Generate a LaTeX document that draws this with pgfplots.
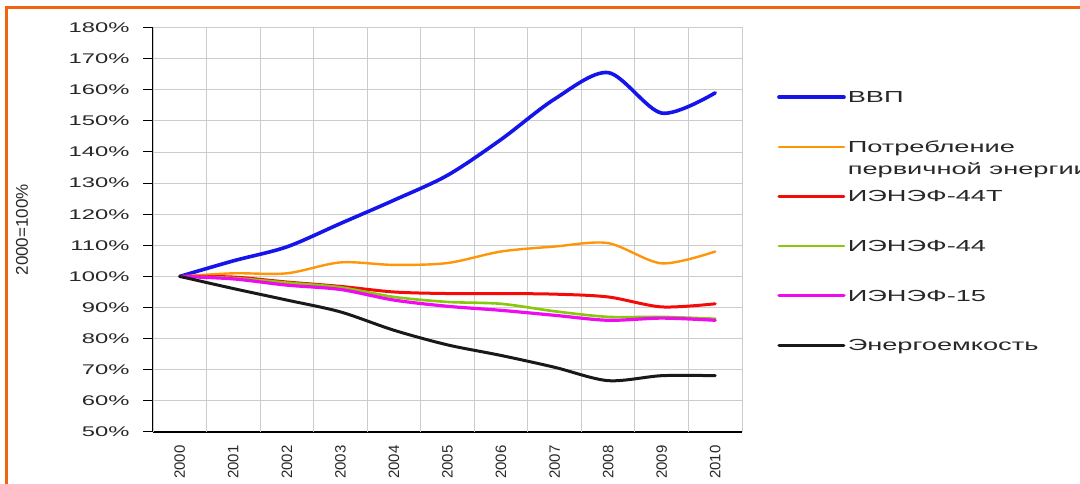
\documentclass[border=0pt]{standalone}
\usepackage{pgfplots}
\pgfplotsset{compat=1.18}
\usepackage{fontspec}
\setmainfont{Liberation Sans}
\newfontfamily\widefont{Liberation Sans}[FakeStretch=1.7]

\definecolor{frameorange}{RGB}{240,100,16}
\definecolor{gdpblue}{RGB}{20,20,235}
\definecolor{consorange}{RGB}{255,150,10}
\definecolor{ienred}{RGB}{245,10,10}
\definecolor{iengreen}{RGB}{135,200,10}
\definecolor{ienmag}{RGB}{240,10,240}
\definecolor{intblack}{RGB}{25,25,25}
\definecolor{txt}{RGB}{40,40,40}

\begin{document}
\begin{tikzpicture}[x=1pt,y=1pt]
\useasboundingbox (0,0) rectangle (1080,484);
\fill[white] (0,0) rectangle (1080,484);
% frame
\draw[frameorange, line width=3pt] (6,0) -- (6,476) -- (1080,476);

\begin{axis}[
  at={(153pt,52pt)}, anchor=south west,
  scale only axis, width=589pt, height=404.5pt,
  xmin=-0.5, xmax=10.5, ymin=50, ymax=180,
  axis x line*=bottom, axis y line*=left,
  axis line style={black, line width=1.8pt},
  tick align=outside,
  ytick={50,60,...,180},
  yticklabel={\pgfmathprintnumber{\tick}\%},
  /pgf/number format/assume math mode=true,
  yticklabel style={font=\widefont\fontsize{14}{16}\selectfont, text=txt, xshift=-10pt},
  ymajorgrids,
  major grid style={gray!40, line width=0.9pt},
  major tick length=10pt,
  tick style={black, line width=1pt},
  xtick={0,...,10},
  xticklabels={2000,2001,2002,2003,2004,2005,2006,2007,2008,2009,2010},
  xtick style={draw=none},
  xticklabel style={rotate=90, anchor=east, font=\fontsize{15}{18}\selectfont, text=txt},
  extra x ticks={-0.5,0.5,...,10.5},
  extra x tick labels={},
  extra x tick style={grid=major, major tick length=6pt, tick style={black, line width=1pt}},
  ylabel={2000=100\%},
  ylabel style={at={(axis description cs:-0.2224,0.50)}, anchor=center, font=\fontsize{17}{19}\selectfont, text=txt},
  legend cell align=left,
  legend image code/.code={\draw[#1] (0pt,0pt) -- (65pt,0pt);},
  legend style={draw=none, fill=none, inner sep=0pt, column sep=2pt, row sep=35.5pt,
    at={(axis description cs:1.0594,0.8455)}, anchor=north west,
    nodes={inner sep=0pt, text=txt},
    font=\widefont\fontsize{16}{18}\selectfont},
  every axis plot/.append style={smooth, tension=0.5, line cap=round, line join=round},
]
% GDP
\addplot[gdpblue, line width=3.6pt] coordinates {
  (0,100) (1,105) (2,109.5) (3,117) (4,124.5) (5,132.5) (6,144) (7,157) (8,165.5) (9,152.5) (10,159)};
% Primary energy consumption
\addplot[consorange, line width=2.4pt] coordinates {
  (0,100) (1,101) (2,101) (3,104.5) (4,103.7) (5,104.3) (6,108) (7,109.6) (8,110.7) (9,104.2) (10,108)};
% IENEF-44T
\addplot[ienred, line width=3pt] coordinates {
  (0,100) (1,99.8) (2,98.2) (3,96.8) (4,95) (5,94.5) (6,94.5) (7,94.3) (8,93.4) (9,90.2) (10,91.2)};
% IENEF-44
\addplot[iengreen, line width=2.6pt] coordinates {
  (0,100) (1,99.5) (2,98) (3,96.5) (4,93.4) (5,91.8) (6,91.2) (7,88.8) (8,87) (9,87) (10,86.4)};
% IENEF-15
\addplot[ienmag, line width=3.2pt] coordinates {
  (0,100) (1,99.2) (2,97.2) (3,95.8) (4,92.4) (5,90.4) (6,89.1) (7,87.5) (8,85.9) (9,86.6) (10,85.9)};
% Energy intensity
\addplot[intblack, line width=3pt] coordinates {
  (0,100) (1,96.1) (2,92.4) (3,88.6) (4,82.7) (5,78) (6,74.6) (7,70.8) (8,66.5) (9,68.1) (10,68.1)};
\legend{ВВП\strut,
  \rlap{Потребление}\raisebox{-22pt}[0pt][0pt]{первичной энергии}\strut,
  ИЭНЭФ-44Т\strut, ИЭНЭФ-44\strut, ИЭНЭФ-15\strut, Энергоемкость\strut}
\end{axis}
\end{tikzpicture}
\end{document}
